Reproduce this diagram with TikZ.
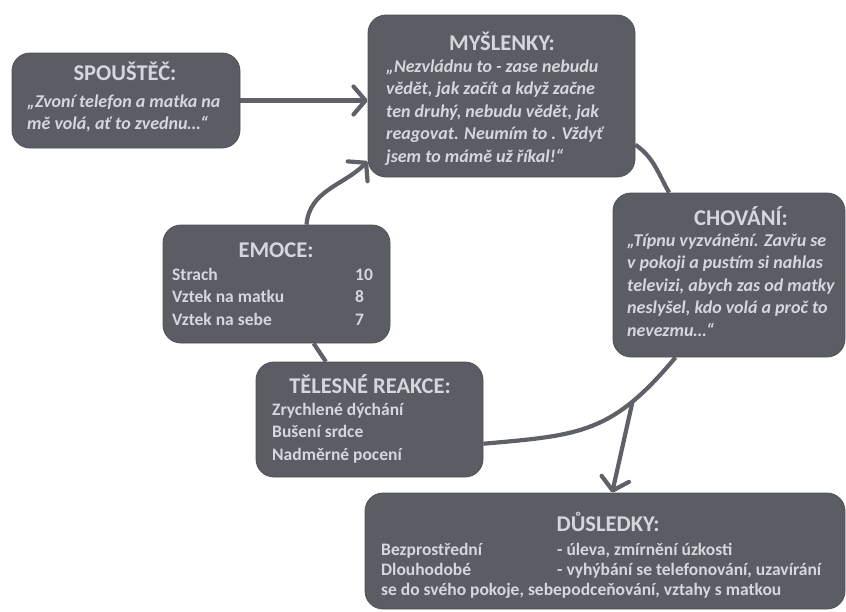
\documentclass[tikz,border=0pt]{standalone}
\usepackage{fontspec}
\setmainfont{Carlito}
\usetikzlibrary{arrows.meta,calc,backgrounds}
\definecolor{boxfill}{HTML}{5A5E64}
\definecolor{boxtext}{HTML}{D4D8DD}
\definecolor{linkcol}{HTML}{5E6268}
\tikzset{
  box/.style   ={draw=boxfill!85!black,fill=boxfill,rounded corners=18pt,
                 line width=0.8pt,inner sep=0pt},
  head/.style  ={text=boxtext,font=\fontsize{22.5}{26}\selectfont\bfseries,
                 inner sep=0pt,anchor=base},
  saying/.style={text=boxtext,font=\fontsize{18}{22.5}\selectfont\bfseries\itshape,
                 inner sep=0pt,align=left,anchor=north west},
  items/.style ={text=boxtext,font=\fontsize{17.5}{22.5}\selectfont\bfseries,
                 inner sep=0pt,align=left,anchor=north west},
  link/.style  ={draw=linkcol,line width=4.2pt},
  ar/.style    ={link,-{Straight Barb[length=12pt,width=28pt,round]}},
}
\newcommand{\fl}{\rule{0pt}{17pt}}

\begin{document}
\begin{tikzpicture}[x=1pt,y=1pt]
\useasboundingbox (0,0) rectangle (846,-611);
% boxes
\node[box,minimum width=228pt,minimum height=95pt]  (spoustec) at (126,-100.5) {};
\node[box,minimum width=267pt,minimum height=162pt] (myslenky) at (501.5,-96) {};
\node[box,minimum width=232pt,minimum height=164pt] (chovani)  at (729,-275) {};
\node[box,minimum width=227pt,minimum height=118pt] (emoce)    at (276.5,-284) {};
\node[box,minimum width=227pt,minimum height=115pt] (telesne)  at (369.5,-419.5) {};
\node[box,minimum width=480pt,minimum height=116pt] (dusledky) at (605,-551) {};
% texts (body nodes: top = first baseline + 17)
\node[head] (spoustecT) at (125,-80) {SPOUŠTĚČ:};
\node[saying] (spoustecB) at (27,-90) {\fl„Zvoní telefon a matka na\\mě volá, ať to zvednu…“};
\node[head] (myslenkyT) at (502,-50) {MYŠLENKY:};
\node[saying] (myslenkyB) at (386,-55) {\fl„Nezvládnu to - zase nebudu\\vědět, jak začít a když začne\\ten druhý, nebudu vědět, jak\\reagovat. Neumím to . Vždyť\\jsem to mámě už říkal!“};
\node[head] (chovaniT) at (741,-225) {CHOVÁNÍ:};
\node[saying] (chovaniB) at (627,-229) {\fl„Típnu vyzvánění. Zavřu se\\v pokoji a pustím si nahlas\\televizi, abych zas od matky\\neslyšel, kdo volá a proč to\\nevezmu…“};
\node[head] (emoceT) at (276,-257) {EMOCE:};
\node[items] (emoceB) at (172,-263) {\fl\makebox[183pt][l]{Strach}10\\\makebox[183pt][l]{Vztek na matku}8\\\makebox[183pt][l]{Vztek na sebe}7};
\node[head] (telesneT) at (370,-393) {TĚLESNÉ REAKCE:};
\node[items] (telesneB) at (272,-398) {\fl Zrychlené dýchání\\Bušení srdce\\Nadměrné pocení};
\node[head] (dusledkyT) at (608,-531) {DŮSLEDKY:};
\node[items,font=\fontsize{17.5}{20}\selectfont\bfseries] (dusledkyB) at (381,-538) {\fl\makebox[176pt][l]{Bezprostřední}- úleva, zmírnění úzkosti\\\makebox[176pt][l]{Dlouhodobé}- vyhýbání se telefonování, uzavírání\\se do svého pokoje, sebepodceňování, vztahy s matkou};
% connectors
\begin{scope}[on background layer]
\draw[ar] ($(emoce.north)+(30,0)$) to[out=85,in=225] (myslenky.206);
\draw[link] (myslenky.-20) to[out=-35,in=120] (chovani.126);
\draw[link] (chovani.-123) to[out=-130,in=5,looseness=1.2] node[pos=0.25,coordinate] (fork) {} (telesne.-12);
\draw[link] (emoce.-58) -- (telesne.127);
\draw[ar] (fork) -- (dusledky.83);
\draw[ar] (spoustec.east) -- (spoustec.east -| myslenky.west);
\end{scope}
\end{tikzpicture}
\end{document}
